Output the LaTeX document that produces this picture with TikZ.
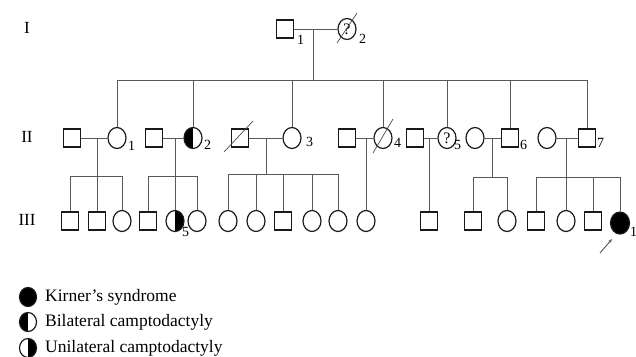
\documentclass[tikz,border=0pt]{standalone}
\usepackage{fontspec}
\setmainfont{Liberation Serif}
\usetikzlibrary{shapes.geometric,arrows.meta}
\begin{document}
\begin{tikzpicture}[x=1pt,y=-1pt,
  male/.style={draw=black!90,line width=1.2pt,rectangle,minimum width=17pt,minimum height=18pt,inner sep=0pt},
  female/.style={draw=black!90,line width=1.2pt,ellipse,minimum width=18pt,minimum height=21pt,inner sep=0pt,font=\fontsize{16}{16}\selectfont},
  halfleft/.style={path picture={\fill[black] (path picture bounding box.south west) rectangle (path picture bounding box.north);}},
  halfright/.style={path picture={\fill[black] (path picture bounding box.south) rectangle (path picture bounding box.north east);}},
  lbl/.style={font=\fontsize{14}{14}\selectfont,anchor=west,inner sep=0pt},
  gen/.style={font=\fontsize{17}{17}\selectfont,inner sep=0pt},
  legtext/.style={font=\fontsize{17.5}{17.5}\selectfont,anchor=west,inner sep=0pt},
  line/.style={draw=black!65,line width=0.9pt},
  dead/.style={draw=black!70,line width=0.7pt}]
\useasboundingbox (0,0) rectangle (636,356);

% generation labels
\node[gen] (gI) at (27,28) {I};
\node[gen] (gII) at (27,137) {II};
\node[gen] (gIII) at (27,220) {III};

% generation I
\node[male] (I1) at (285,29) {};
\node[female] (I2) at (347,29) {?};
\node[lbl] (lI1) at (297,40) {1};
\node[lbl] (lI2) at (359,39) {2};
\draw[dead] ([shift={(-10,14)}]I2.center) -- ([shift={(10,-16)}]I2.center);
\draw[line] (I1) -- (I2);
\coordinate (mI) at (313,29);
\coordinate (sibII) at (313,80);
\draw[line] (mI) -- (sibII);

% generation II
\node[male] (IIs1) at (72,138) {};
\node[female] (II1) at (117,138) {};
\node[male] (IIs2) at (154,138) {};
\node[female,halfleft] (II2) at (193,138) {};
\node[male] (IIs3) at (240,138) {};
\node[female] (II3) at (292,138) {};
\node[male] (IIs4) at (347,138) {};
\node[female] (II4) at (383,138) {};
\node[male] (IIs5) at (415,138) {};
\node[female] (II5) at (447,138) {?};
\node[female] (IIs6) at (475,138) {};
\node[male] (II6) at (510,138) {};
\node[female] (IIs7) at (547,138) {};
\node[male] (II7) at (587,138) {};

\node[lbl] (lII1) at (128,146) {1};
\node[lbl] (lII2) at (204,145) {2};
\node[lbl] (lII3) at (306,142) {3};
\node[lbl] (lII4) at (394,143) {4};
\node[lbl] (lII5) at (454,145) {5};
\node[lbl] (lII6) at (520,145) {6};
\node[lbl] (lII7) at (597,143) {7};

\draw[dead] ([shift={(-16,14)}]IIs3.center) -- ([shift={(13,-17)}]IIs3.center);
\draw[dead] ([shift={(-10,15)}]II4.center) -- ([shift={(10,-19)}]II4.center);

% sibship of generation II
\draw[line] (II1.north |- sibII) -- (II7.north |- sibII);
\foreach \n in {II1,II2,II3,II4,II5,II6,II7}
  \draw[line] (\n.north) -- (\n.north |- sibII);

% marriages
\foreach \a/\b in {IIs1/II1,IIs2/II2,IIs3/II3,IIs4/II4,IIs5/II5,IIs6/II6,IIs7/II7}
  \draw[line] (\a) -- (\b);

% generation III
\node[male] (A1) at (70,221) {};
\node[male] (A2) at (97,221) {};
\node[female] (A3) at (122,221) {};
\node[male] (B1) at (148,221) {};
\node[female,halfright] (B2) at (175,221) {};
\node[female] (B3) at (197,221) {};
\node[female] (C1) at (228,221) {};
\node[female] (C2) at (256,221) {};
\node[male] (C3) at (283,221) {};
\node[female] (C4) at (312,221) {};
\node[female] (C5) at (338,221) {};
\node[female] (D1) at (366,221) {};
\node[male] (E1) at (429,221) {};
\node[male] (F1) at (473,221) {};
\node[female] (F2) at (507,221) {};
\node[male] (G1) at (536,221) {};
\node[female] (G2) at (566,221) {};
\node[male] (G3) at (593,221) {};
\node[female,fill=black,minimum width=19pt,minimum height=22pt] (G4) at (620,223) {};
\node[lbl] (lB2) at (182,232) {5};
\node[lbl] (lG4) at (630,232) {1};

% descent coordinates
\coordinate (m1) at (97,138);  \coordinate (s1) at (97,176);
\coordinate (m2) at (175,138); \coordinate (s2) at (175,176);
\coordinate (m3) at (266,138); \coordinate (s3) at (266,174);
\coordinate (m4) at (366,138);
\coordinate (m5) at (429,138);
\coordinate (m6) at (492,138); \coordinate (s6) at (492,177);
\coordinate (m7) at (566,138); \coordinate (s7) at (566,177);

\draw[line] (m1) -- (s1);
\draw[line] (m2) -- (s2);
\draw[line] (m3) -- (s3);
\draw[line] (m4) -- (D1.north);
\draw[line] (m5) -- (E1.north);
\draw[line] (m6) -- (s6);
\draw[line] (m7) -- (s7);

\draw[line] (A1.north |- s1) -- (A3.north |- s1);
\draw[line] (B1.north |- s2) -- (B3.north |- s2);
\draw[line] (C1.north |- s3) -- (C5.north |- s3);
\draw[line] (F1.north |- s6) -- (F2.north |- s6);
\draw[line] (G1.north |- s7) -- (G4.north |- s7);

\foreach \n in {A1,A2,A3}          \draw[line] (\n.north) -- (\n.north |- s1);
\foreach \n in {B1,B2,B3}          \draw[line] (\n.north) -- (\n.north |- s2);
\foreach \n in {C1,C2,C3,C4,C5}    \draw[line] (\n.north) -- (\n.north |- s3);
\foreach \n in {F1,F2}             \draw[line] (\n.north) -- (\n.north |- s6);
\foreach \n in {G1,G2,G3,G4}       \draw[line] (\n.north) -- (\n.north |- s7);

% proband arrow
\coordinate (arrA) at (600,253);
\coordinate (arrB) at (612,239);
\draw[line,-{Stealth[length=4pt,width=3pt]}] (arrA) -- (arrB);

% legend
\node[female,fill=black,minimum width=17pt,minimum height=19pt] (k1) at (28,297) {};
\node[female,halfleft,minimum width=17pt,minimum height=19pt] (k2) at (28,322) {};
\node[female,halfright,minimum width=17pt,minimum height=19pt] (k3) at (28,348) {};
\node[legtext] (t1) at (45,297) {Kirner’s syndrome};
\node[legtext] (t2) at (45,322) {Bilateral camptodactyly};
\node[legtext] (t3) at (45,348) {Unilateral camptodactyly};
\end{tikzpicture}
\end{document}
